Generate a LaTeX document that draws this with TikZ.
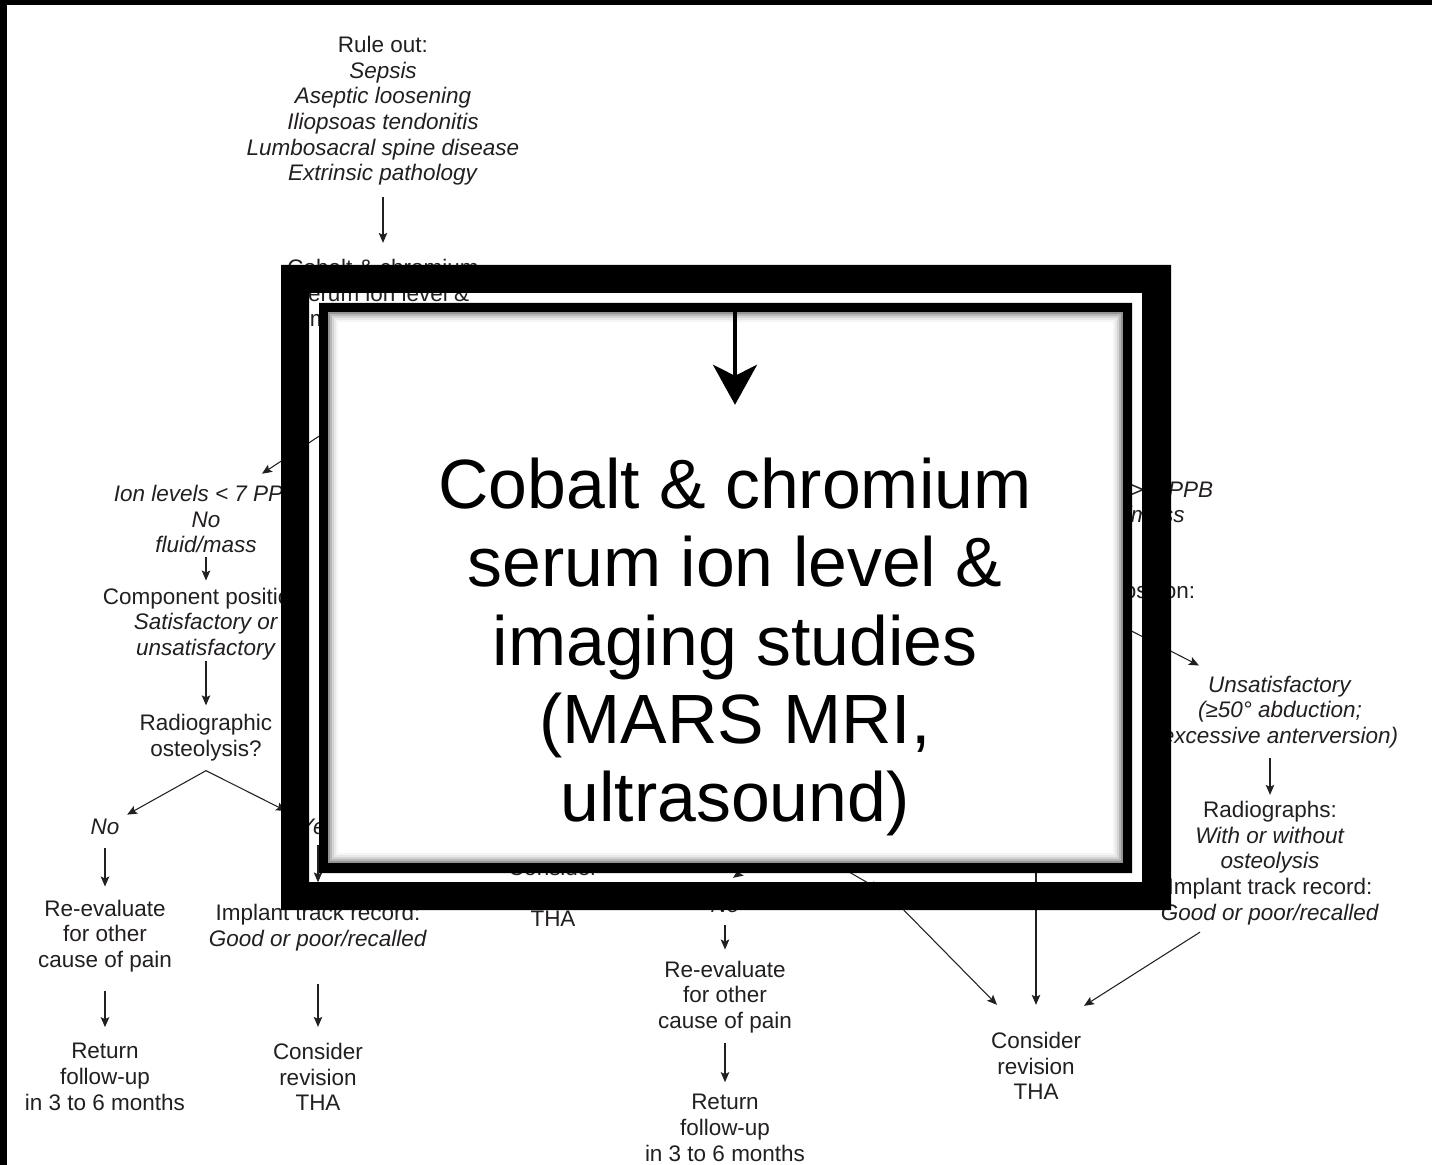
\documentclass[tikz,border=0pt]{standalone}
\usepackage{fontspec}
\setmainfont{Liberation Sans}
\usepackage{xcolor}
\usetikzlibrary{positioning,calc,arrows.meta}

\definecolor{ink}{HTML}{231F20}
\newcommand{\flowfont}{\fontsize{12.8}{14.6}\selectfont}
\newcommand{\zoomfont}{\fontsize{39.7}{44.5}\selectfont}

\begin{document}
\begin{tikzpicture}[x=0.02cm,y=-0.02cm,
  every node/.style={font=\flowfont,text=ink},
  txt/.style={align=center,inner sep=0pt},
  arrow/.style={-{Stealth[length=0.2cm,width=0.17cm,inset=0.04cm]},line width=0.6pt,draw=ink},
  gap/.style 2 args={shorten <=#1,shorten >=#2},
  bigarrow/.style={-{Stealth[length=0.8cm,width=0.88cm,inset=0.22cm]},line width=2.3pt,draw=black}]

\useasboundingbox (0,0) rectangle (1432,1165);
\fill[white] (0,0) rectangle (1432,1165);
\fill[black] (0,0) rectangle (1432,5);
\fill[black] (0,0) rectangle (7,1165);

% top of the chart
\node[txt] (ruleout) at (383,111) {Rule out:\\\textit{Sepsis}\\\textit{Aseptic loosening}\\\textit{Iliopsoas tendonitis}\\\textit{Lumbosacral spine disease}\\\textit{Extrinsic pathology}};
\node[txt] (cobalt) at (383,321) {Cobalt \& chromium\\serum ion level \&\\imaging studies\\(MARS MRI,\\ultrasound)};

% left branch
\node[txt] (ionlow) at (206,519) {\textit{Ion levels < 7 PPB}\\\textit{No}\\\textit{fluid/mass}};
\node[txt] (posleft) at (206,624) {Component position:\\\textit{Satisfactory or}\\\textit{unsatisfactory}};
\node[txt] (radleft) at (206,738) {Radiographic\\osteolysis?};
\coordinate (forkleft) at ($(radleft.south)+(0,9)$);
\node[txt] (noleft) at (105,827) {\textit{No}};
\node[txt] (yesleft) at (318,827) {\textit{Yes}};
\node[txt] (reevalleft) at (105,936) {Re-evaluate\\for other\\cause of pain};
\node[txt] (trackleft) at (318,928) {Implant track record:\\\textit{Good or poor/recalled}};
\node[txt] (returnleft) at (105,1077) {Return\\follow-up\\in 3 to 6 months};
\node[txt] (revleft) at (318,1077) {Consider\\revision\\THA};

% middle branch
\node[txt] (revmid) at (553,893) {Consider\\revision\\THA};
\coordinate (forkmid) at (790,838);
\coordinate (yesmid) at (889,895);
\node[txt] (nomid) at (725,905) {\textit{No}};
\node[txt] (reevalmid) at (725,997) {Re-evaluate\\for other\\cause of pain};
\node[txt] (returnmid) at (725,1128) {Return\\follow-up\\in 3 to 6 months};

% right branch
\node[txt] (ionhigh) at (1121,502) {\textit{Ion levels > 7 PPB}\\\textit{or fluid/mass}};
\node[txt] (posright) at (1092,593) {Component position:};
\node[txt] (unsat) at (1280,712) {\textit{Unsatisfactory}\\\textit{(≥50° abduction;}\\\textit{excessive anterversion)}};
\node[txt] (radright) at (1270,863) {Radiographs:\\\textit{With or without}\\\textit{osteolysis}\\Implant track record:\\\textit{Good or poor/recalled}};
\node[txt] (revright) at (1036,1066) {Consider\\revision\\THA};
\coordinate (vtop) at (1036,700);

\foreach \a/\b/\s/\t in {ruleout/cobalt/0.22cm/0.32cm,ionlow/posleft/0.08cm/0.14cm,
    posleft/radleft/0.02cm/0.18cm,noleft/reevalleft/0.26cm/0.26cm,
    yesleft/trackleft/0.2cm/0.44cm,reevalleft/returnleft/0.38cm/0.32cm,
    trackleft/revleft/0.64cm/0.32cm,nomid/reevalmid/0.24cm/0.22cm,
    reevalmid/returnmid/0.2cm/0.24cm,unsat/radright/0.2cm/0.12cm}
  \draw[arrow,gap={\s}{\t}] (\b.north |- \a.south) -- (\b.north);

\draw[arrow] ($(cobalt.south)+(3,9)$) -- ($(ionlow.north)+(56,-11)$);
\draw[arrow,shorten >=0.17cm] (forkleft) -- (noleft);
\draw[arrow,shorten >=0.35cm] (forkleft) -- (yesleft);
\draw[arrow] (forkmid) -- ($(nomid.north)+(8,-19)$);
\draw[arrow,shorten >=0.2cm] (forkmid) -- (yesmid);
\draw[arrow] (yesmid) -- ($(revright.north)+(-39,-27)$);
\draw[arrow,shorten >=0.54cm] (vtop) -- (revright.north);
\draw[arrow] ($(posright.south)+(0,7)$) -- ($(unsat.north)+(-81,-10)$);
\draw[arrow] ($(radright.south)+(-70,7)$) -- ($(revright.north)+(48,-26)$);

% magnifier on top
\fill[black,even odd rule] (281,265) rectangle (1171,910) (309,293) rectangle (1142,882);
\fill[black,even odd rule] (319,303) rectangle (1132,873) (328,312) rectangle (1123,863);
\foreach \d/\s in {0/42,2/28,4/17,6/9,8/4,10/0}
  \fill[black!\s] ({328+\d},{312+\d}) rectangle ({1123-\d},{863-\d});

\node[txt,font=\zoomfont,text=black] (magtext) at (735,647) {Cobalt \& chromium\\serum ion level \&\\imaging studies\\(MARS MRI,\\ultrasound)};
\coordinate (magtop) at (735,312);
\draw[bigarrow,shorten >=1.06cm] (magtop) -- (magtext.north);
\end{tikzpicture}
\end{document}
